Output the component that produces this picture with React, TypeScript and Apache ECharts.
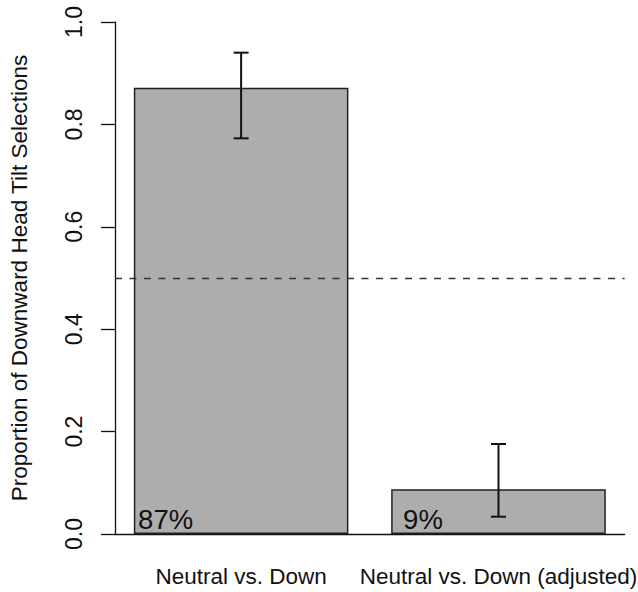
import React, { useEffect, useRef } from "react";
import * as echarts from "echarts";

const categories = ["Neutral vs. Down", "Neutral vs. Down (adjusted)"];
const barCenters = [0.7, 1.9];
const proportions = [0.8717, 0.0873];
const ciLower = [0.7728, 0.0338];
const ciUpper = [0.9401, 0.1758];
const referenceLevel = 0.5;
const yAxisTitle = "Proportion of Downward Head Tilt Selections";

const FONT = "'Liberation Sans', Arial, Helvetica, sans-serif";

export default function App() {
  const ref = useRef<HTMLDivElement>(null);

  useEffect(() => {
    if (!ref.current) return;
    const chart = echarts.init(ref.current, null, { renderer: "svg" });

    const barData = barCenters.map((x, i) => [x, proportions[i]]);
    const errData = barCenters.map((x, i) => [x, ciLower[i], ciUpper[i]]);
    const pctData = barCenters.map((x, i) => [x, proportions[i]]);
    const catData = barCenters.map((x, i) => [x, 0, i]);

    const option: any = {
      animation: false,
      backgroundColor: "#ffffff",
      grid: { left: 114.8, right: 13.4, top: 22, bottom: 58, containLabel: false },
      xAxis: {
        type: "value",
        min: 0.112,
        max: 2.488,
        axisLine: { show: true, onZero: false, lineStyle: { color: "#111", width: 1.3 } },
        axisTick: { show: false },
        axisLabel: { show: false },
        splitLine: { show: false },
      },
      yAxis: {
        type: "value",
        min: 0,
        max: 1,
        interval: 0.2,
        name: yAxisTitle,
        nameLocation: "middle",
        nameRotate: 90,
        nameGap: 84,
        nameTextStyle: { fontFamily: FONT, fontSize: 22.5, color: "#111" },
        axisLine: { show: true, lineStyle: { color: "#111", width: 1.3 } },
        axisTick: { show: true, length: 14, inside: false, lineStyle: { color: "#111", width: 1.3 } },
        axisLabel: {
          rotate: 90,
          margin: 30,
          fontFamily: FONT,
          fontSize: 23,
          color: "#111",
          formatter: (v: number) => v.toFixed(1),
        },
        splitLine: { show: false },
      },
      series: [
        {
          type: "bar",
          data: barData,
          barWidth: 214.6,
          itemStyle: { color: "#ADADAD", borderColor: "#222", borderWidth: 1.5 },
          markLine: {
            silent: true,
            symbol: ["none", "none"],
            label: { show: false },
            lineStyle: { color: "#333", width: 1.4, type: [7, 7.5] },
            data: [{ yAxis: referenceLevel }],
          },
          z: 2,
        },
        {
          type: "custom",
          data: errData,
          z: 5,
          renderItem: (params: any, api: any) => {
            const x = api.value(0);
            const top = api.coord([x, api.value(2)]);
            const bot = api.coord([x, api.value(1)]);
            const cap = 7.5;
            const style = { stroke: "#111", lineWidth: 2 };
            return {
              type: "group",
              children: [
                { type: "line", shape: { x1: top[0], y1: top[1], x2: bot[0], y2: bot[1] }, style },
                { type: "line", shape: { x1: top[0] - cap, y1: top[1], x2: top[0] + cap, y2: top[1] }, style },
                { type: "line", shape: { x1: bot[0] - cap, y1: bot[1], x2: bot[0] + cap, y2: bot[1] }, style },
              ],
            };
          },
        },
        {
          type: "custom",
          data: pctData,
          z: 6,
          renderItem: (params: any, api: any) => {
            const x = api.value(0);
            const p = api.coord([x, 0]);
            return {
              type: "text",
              x: p[0] - 75.5,
              y: p[1] - 15,
              style: {
                text: Math.round(api.value(1) * 100) + "%",
                fontFamily: FONT,
                fontSize: 27.5,
                fill: "#111",
                align: "center",
                verticalAlign: "middle",
              },
            };
          },
        },
        {
          type: "custom",
          data: catData,
          z: 6,
          clip: false,
          renderItem: (params: any, api: any) => {
            const x = api.value(0);
            const p = api.coord([x, 0]);
            return {
              type: "text",
              x: p[0],
              y: p[1] + 42,
              style: {
                text: categories[api.value(2)],
                fontFamily: FONT,
                fontSize: 22.5,
                fill: "#111",
                align: "center",
                verticalAlign: "middle",
              },
            };
          },
        },
      ],
    };

    chart.setOption(option);
    return () => chart.dispose();
  }, []);

  return (
    <div
      ref={ref}
      style={{ position: "fixed", left: 0, top: 0, width: 638, height: 592, background: "#fff" }}
    />
  );
}
